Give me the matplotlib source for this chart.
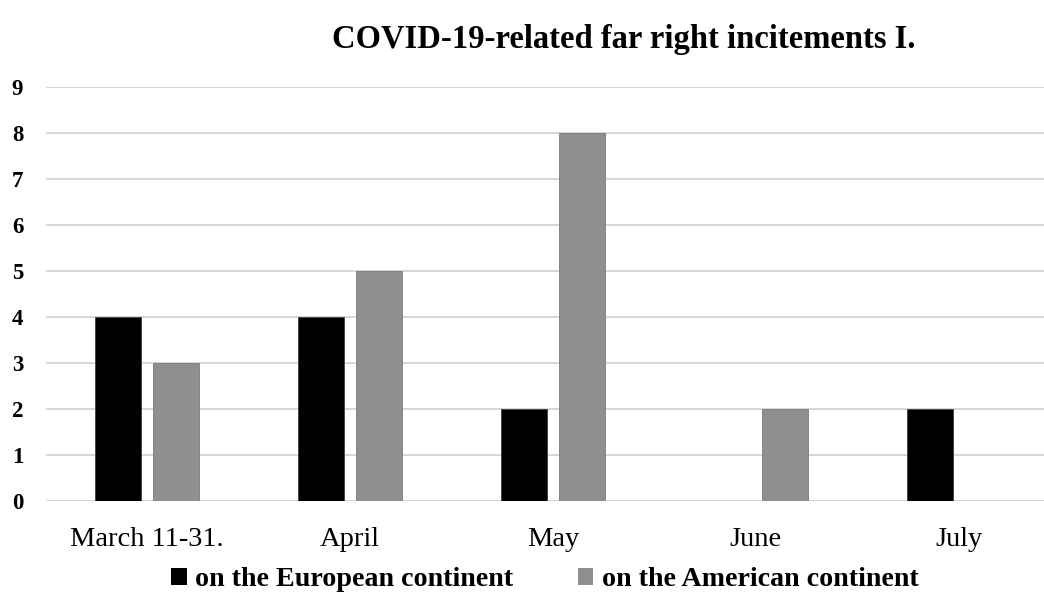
import numpy as np
import matplotlib
matplotlib.use('Agg')
import matplotlib.pyplot as plt
from matplotlib.patches import Patch

# chart values
months = ['March 11-31.', 'April', 'May', 'June', 'July']
europe = [4, 4, 2, 0, 2]
america = [3, 5, 8, 2, 0]
series_names = ['on the European continent', 'on the American continent']
yticks = list(range(0, 10))

plt.rcParams['font.family'] = ['Liberation Serif', 'DejaVu Serif']

fig = plt.figure(figsize=(10.44, 5.94), dpi=100)
# plot area runs a bit past the right edge (the source image is cropped)
ax = fig.add_axes([0.0436, 0.1574, 0.972, 0.6956])

x = np.arange(len(months))
w = 0.227
off = 0.143
ax.bar(x - off, europe, w, color='black', edgecolor='#404040', linewidth=0.6, zorder=3)
ax.bar(x + off, america, w, color='#8f8f8f', edgecolor='#7a7a7a', linewidth=0.6, zorder=3)

ax.set_xlim(-0.5, len(months) - 0.5)
ax.set_ylim(0, 9)
ax.set_yticks(yticks)
ax.set_yticklabels([str(v) for v in yticks], fontsize=16.5, fontweight='bold')
ax.set_xticks(x)
ax.set_xticklabels(months, fontsize=20.5)
ax.tick_params(axis='both', length=0)
ax.tick_params(axis='y', pad=16)
ax.tick_params(axis='x', pad=19)
ax.grid(axis='y', color='#d4d4d4', linewidth=1.3, zorder=0)
for s in ax.spines.values():
    s.set_visible(False)

fig.text(0.597, 0.934, 'COVID-19-related far right incitements I.',
         ha='center', va='center', fontsize=23.5, fontweight='bold')

handles = [Patch(facecolor='black'), Patch(facecolor='#8f8f8f')]
fig.legend(handles, series_names, loc='center', bbox_to_anchor=(0.522, 0.024),
           ncol=2, frameon=False, prop={'size': 20.2, 'weight': 'bold'},
           handlelength=0.55, handleheight=0.55, handletextpad=0.3,
           columnspacing=2.3, borderaxespad=0)

fig.savefig('out.png', dpi=100)
